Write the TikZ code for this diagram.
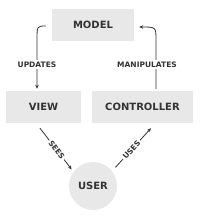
\documentclass[tikz,border=0pt]{standalone}
\usepackage{fontspec}
\setmainfont{DejaVu Sans}
\usetikzlibrary{positioning,arrows.meta}
\definecolor{boxgray}{HTML}{E8E8E8}
\definecolor{ink}{HTML}{333333}
\tikzset{
  partbox/.style={fill=boxgray, text=ink, font=\fontsize{10}{12}\selectfont\bfseries, inner sep=0pt},
  flow/.style={draw=ink, line width=0.8pt, -{Stealth[length=4pt,width=3.5pt]}},
  flowlabel/.style={fill=white, text=ink, font=\fontsize{7.5}{9}\selectfont\bfseries, inner sep=1.5pt}
}
\begin{document}
\begin{tikzpicture}[x=1pt, y=-1pt]
  \useasboundingbox (0,0) rectangle (200,220);
  % Parts
  \node[partbox, minimum width=82pt, minimum height=32pt] (model) at (93,25) {MODEL};
  \node[partbox, minimum width=75pt, minimum height=32pt] (view) at (43.5,107) {VIEW};
  \node[partbox, minimum width=101pt, minimum height=32pt] (controller) at (142.5,107) {CONTROLLER};
  \node[partbox, circle, minimum size=48pt] (user) at (93,186) {USER};
  % Model to view
  \draw[flow] ([xshift=-6pt,yshift=-1pt]model.west) .. controls (37,26) .. (37,40)
    -- node[flowlabel] {UPDATES} ([xshift=-6.5pt,yshift=2pt]view.north);
  % Controller to model
  \draw[flow] ([xshift=13.5pt,yshift=2pt]controller.north) -- (156,40)
    node[flowlabel, pos=0.5, xshift=-9pt] {MANIPULATES}
    .. controls (156,27) .. ([xshift=5pt,yshift=-2pt]model.east);
  % View to user
  \draw[flow, shorten >=3pt] ([xshift=-3.5pt,yshift=-5pt]view.south)
    -- node[flowlabel, sloped] {SEES} (user.144);
  % User to controller
  \draw[flow, shorten <=5pt] (user.38)
    -- node[flowlabel, sloped] {USES} ([xshift=8.5pt,yshift=-5pt]controller.south);
\end{tikzpicture}
\end{document}
